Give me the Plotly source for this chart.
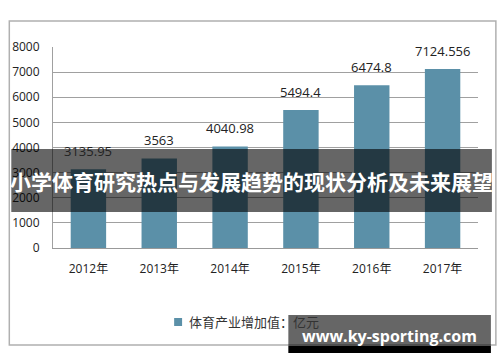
import plotly.graph_objects as go

categories = ["2012年", "2013年", "2014年", "2015年", "2016年", "2017年"]
values = [3135.95, 3563, 4040.98, 5494.4, 6474.8, 7124.556]
value_labels = ["3135.95", "3563", "4040.98", "5494.4", "6474.8", "7124.556"]
series_name = "体育产业增加值：亿元"
title_text = "小学体育研究热点与发展趋势的现状分析及未来展望"
watermark = "www.ky-sporting.com"

BAR = "#5b90a8"
FONT = "Open Sans, Noto Sans CJK SC, sans-serif"

# pixel helpers (plot area: x 50..478, y 47..248)
L, R, T, B = 50, 478, 47, 248
def px(x):
    return (x - L) / (R - L)
def py(y):
    return (B - y) / (B - T)

fig = go.Figure()
fig.add_trace(go.Bar(x=categories, y=values, marker=dict(color=BAR, line=dict(width=0)),
                     name=series_name, showlegend=False))

annotations = []
for c, v, t in zip(categories, values, value_labels):
    annotations.append(dict(x=c, y=v, xref="x", yref="y", text=t, showarrow=False,
                            yanchor="bottom", yshift=7,
                            font=dict(family=FONT, size=13, color="#222")))

shapes = [
    # outer chart border
    dict(type="rect", xref="paper", yref="paper", x0=px(6), x1=px(496), y0=py(345), y1=py(21),
         line=dict(color="#b0b0b0", width=1.5), fillcolor="rgba(0,0,0,0)", layer="below"),
    # legend symbol
    dict(type="rect", xref="paper", yref="paper", x0=px(172), x1=px(180), y0=py(326), y1=py(318),
         line=dict(width=0), fillcolor=BAR),
    # banner
    dict(type="rect", xref="paper", yref="paper", x0=px(8), x1=px(492), y0=py(212), y1=py(149),
         line=dict(width=0), fillcolor="rgba(0,0,0,0.6)", layer="above"),
    # watermark box
    dict(type="rect", xref="paper", yref="paper", x0=px(287), x1=px(491), y0=py(346), y1=py(315),
         line=dict(width=0), fillcolor="rgba(0,0,0,0.6)", layer="above"),
    dict(type="rect", xref="paper", yref="paper", x0=px(287), x1=px(491), y0=py(353), y1=py(346),
         line=dict(width=0), fillcolor="#000000", layer="above"),
]

annotations.append(dict(xref="paper", yref="paper", x=px(185), y=py(322), xanchor="left",
                        yanchor="middle", text=series_name, showarrow=False,
                        font=dict(family=FONT, size=13, color="#333")))
annotations.append(dict(xref="paper", yref="paper", x=px(250), y=py(181), xanchor="center",
                        yanchor="middle", text="<b>" + title_text + "</b>", showarrow=False,
                        font=dict(family="Noto Sans CJK SC, sans-serif", size=21, color="#ffffff")))
annotations.append(dict(xref="paper", yref="paper", x=px(389), y=py(336), xanchor="center",
                        yanchor="middle", text="<b>" + watermark + "</b>", showarrow=False,
                        font=dict(family="Open Sans, sans-serif", size=16, color="#ffffff")))

fig.update_layout(
    width=500, height=362,
    margin=dict(l=L, r=500 - R, t=T, b=362 - B),
    paper_bgcolor="white", plot_bgcolor="white",
    bargap=0.5,
    shapes=shapes, annotations=annotations,
    font=dict(family=FONT, size=12, color="#222"),
)
fig.update_xaxes(showgrid=False, showline=True, linecolor="#999", linewidth=1,
                 ticks="", ticklabelstandoff=10,
                 tickfont=dict(family=FONT, size=12, color="#222"))
fig.update_yaxes(range=[0, 8000], dtick=1000, showgrid=True, gridcolor="#a0a0a0", gridwidth=1,
                 showline=True, linecolor="#a0a0a0", linewidth=1, zeroline=False,
                 ticks="", ticklabelstandoff=10,
                 tickfont=dict(family=FONT, size=12, color="#222"))

fig.write_html("out.html")
